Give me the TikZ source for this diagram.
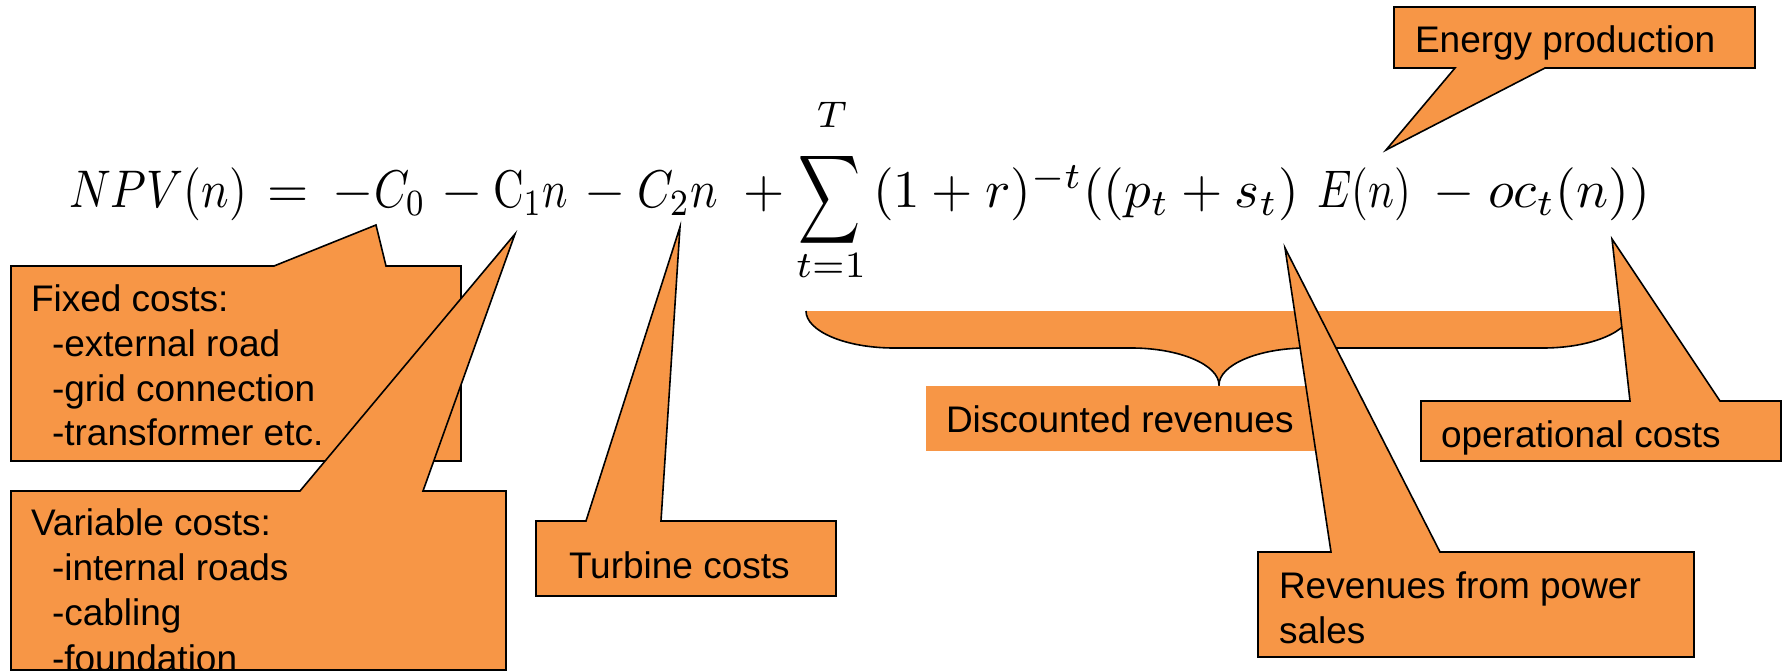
\documentclass[tikz,border=0pt]{standalone}
\usepackage[no-math]{fontspec}
\setmainfont{Liberation Sans}
\usepackage{graphicx}
\definecolor{callfill}{HTML}{F79646}
\newcommand\lblsize{\fontsize{37}{44}\selectfont}
\newcommand\eqs[1]{\scalebox{5.3}{$#1$}}
\newcommand\eqw[2]{\resizebox{#1}{\height}{\scalebox{5.3}{$#2$}}}
\tikzset{
  callout/.style={fill=callfill, draw=black, line width=1.6pt, line join=miter},
  lbl/.style={anchor=base west, inner sep=0pt, outer sep=0pt, font=\lblsize},
  eqp/.style={anchor=base west, inner sep=0pt, outer sep=0pt},
  eqc/.style={anchor=center, inner sep=0pt, outer sep=0pt},
  bracefill/.style={fill=callfill},
  braceline/.style={draw=black, line width=1.6pt},
}
\begin{document}
\begin{tikzpicture}[x=1pt,y=-1pt]
\useasboundingbox (0,0) rectangle (1792,671);
\clip (0,0) rectangle (1792,671);
\fill[white] (0,0) rectangle (1792,671);

% ---------- brace under the sum ----------
\coordinate (brL)  at (806,311);
\coordinate (brL1) at (894,348);
\coordinate (brL2) at (1131,348);
\coordinate (brC)  at (1219,385);
\coordinate (brR2) at (1307,348);
\coordinate (brR1) at (1543,348);
\coordinate (brR)  at (1631,311);
\path[bracefill] (brL) .. controls (806,331) and (845,348) .. (brL1) -- (brL2)
  .. controls (1180,348) and (1219,365) .. (brC)
  .. controls (1219,365) and (1258,348) .. (brR2) -- (brR1)
  .. controls (1592,348) and (1631,331) .. (brR) -- cycle;
\path[braceline] (brL) .. controls (806,331) and (845,348) .. (brL1) -- (brL2)
  .. controls (1180,348) and (1219,365) .. (brC)
  .. controls (1219,365) and (1258,348) .. (brR2) -- (brR1)
  .. controls (1592,348) and (1631,331) .. (brR);

% ---------- Discounted revenues (no border) ----------
\node[fill=callfill, minimum width=394pt, minimum height=65pt, inner sep=0pt, anchor=north west] (disc) at (926,386) {};
\node[lbl] (discT) at (946,432) {Discounted revenues};

% ---------- Fixed costs ----------
\coordinate (fxNW) at (11,266);
\coordinate (fxB1) at (274,266);
\coordinate (fxTip) at (376,225);
\coordinate (fxB2) at (386,266);
\coordinate (fxNE) at (461,266);
\coordinate (fxSE) at (461,461);
\coordinate (fxSW) at (11,461);
\path[callout] (fxNW) -- (fxB1) -- (fxTip) -- (fxB2) -- (fxNE) -- (fxSE) -- (fxSW) -- cycle;
\node[lbl] (fx1) at (31,312) {Fixed costs:};
\node[lbl] (fx2) at (52,356) {-external road};
\node[lbl] (fx3) at (52,401) {-grid connection};
\node[lbl] (fx4) at (52,445) {-transformer etc.};

% ---------- Variable costs ----------
\coordinate (vxNW) at (11,491);
\coordinate (vxB1) at (300,491);
\coordinate (vxTip) at (515,234);
\coordinate (vxB2) at (423,491);
\coordinate (vxNE) at (506,491);
\coordinate (vxSE) at (506,670);
\coordinate (vxSW) at (11,670);
\path[callout] (vxNW) -- (vxB1) -- (vxTip) -- (vxB2) -- (vxNE) -- (vxSE) -- (vxSW) -- cycle;
\node[lbl] (vx1) at (31,535) {Variable costs:};
\node[lbl] (vx2) at (52,580) {-internal roads};
\node[lbl] (vx3) at (52,625) {-cabling};
\node[lbl] (vx4) at (52,671) {-foundation};
\draw[line width=1.6pt] (vxSW) -- (vxSE);

% ---------- Turbine costs ----------
\coordinate (tbNW) at (536,521);
\coordinate (tbB1) at (586,521);
\coordinate (tbTip) at (680,227);
\coordinate (tbB2) at (661,521);
\coordinate (tbNE) at (836,521);
\coordinate (tbSE) at (836,596);
\coordinate (tbSW) at (536,596);
\path[callout] (tbNW) -- (tbB1) -- (tbTip) -- (tbB2) -- (tbNE) -- (tbSE) -- (tbSW) -- cycle;
\node[lbl] (tbT) at (569,578) {Turbine costs};

% ---------- Revenues from power sales ----------
\coordinate (rvNW) at (1258,552);
\coordinate (rvB1) at (1331,552);
\coordinate (rvTip) at (1285,248);
\coordinate (rvB2) at (1440,552);
\coordinate (rvNE) at (1694,552);
\coordinate (rvSE) at (1694,657);
\coordinate (rvSW) at (1258,657);
\path[callout] (rvNW) -- (rvB1) -- (rvTip) -- (rvB2) -- (rvNE) -- (rvSE) -- (rvSW) -- cycle;
\node[lbl] (rv1) at (1279,598) {Revenues from power};
\node[lbl] (rv2) at (1279,643) {sales};

% ---------- operational costs ----------
\coordinate (opNW) at (1421,401);
\coordinate (opB1) at (1630,401);
\coordinate (opTip) at (1612,239);
\coordinate (opB2) at (1720,401);
\coordinate (opNE) at (1781,401);
\coordinate (opSE) at (1781,461);
\coordinate (opSW) at (1421,461);
\path[callout] (opNW) -- (opB1) -- (opTip) -- (opB2) -- (opNE) -- (opSE) -- (opSW) -- cycle;
\node[lbl] (opT) at (1441,447) {operational costs};

% ---------- Energy production ----------
\coordinate (enNW) at (1394,7);
\coordinate (enNE) at (1755,7);
\coordinate (enSE) at (1755,68);
\coordinate (enB2) at (1545,68);
\coordinate (enTip) at (1386,150);
\coordinate (enB1) at (1455,68);
\coordinate (enSW) at (1394,68);
\path[callout] (enNW) -- (enNE) -- (enSE) -- (enB2) -- (enTip) -- (enB1) -- (enSW) -- cycle;
\node[lbl] (enT) at (1415,53) {Energy production};

% ---------- equation ----------
\node[eqp] (e1) at (69,208) {\eqw{178pt}{NPV(n)}};
\node[eqp] (e2) at (267,208) {\eqs{=}};
\node[eqp] (e3m) at (332,208) {\eqs{-}};
\node[eqp] (e3) at (374,208) {\eqw{52pt}{C_0}};
\node[eqp] (e4) at (441,208) {\eqs{-}};
\node[eqp] (e5) at (493,208) {\eqw{75pt}{\mathrm{C}_1n}};
\node[eqp] (e6) at (584,208) {\eqs{-}};
\node[eqp] (e7) at (637,208) {\eqw{81pt}{C_2n}};
\node[eqp] (e8) at (743,208) {\eqs{+}};
\node[eqc] (esum) at (830,199.5) {\scalebox{4.3}[6.2]{$\displaystyle\sum$}};
\node[anchor=base, inner sep=0pt] (etop) at (832,128) {\eqs{\scriptstyle T}};
\node[anchor=base, inner sep=0pt] (ebot) at (831,278) {\eqs{\scriptstyle t=1}};
\node[eqp] (e9) at (873,208) {\eqw{426pt}{(1+r)^{-t}((p_t+s_t)}};
\node[eqp] (e10) at (1317,208) {\eqw{94pt}{E(n)}};
\node[eqp] (e11) at (1433,208) {\eqs{-}};
\node[eqp] (e12) at (1488,208) {\eqw{162pt}{oc_t(n))}};
\end{tikzpicture}
\end{document}
